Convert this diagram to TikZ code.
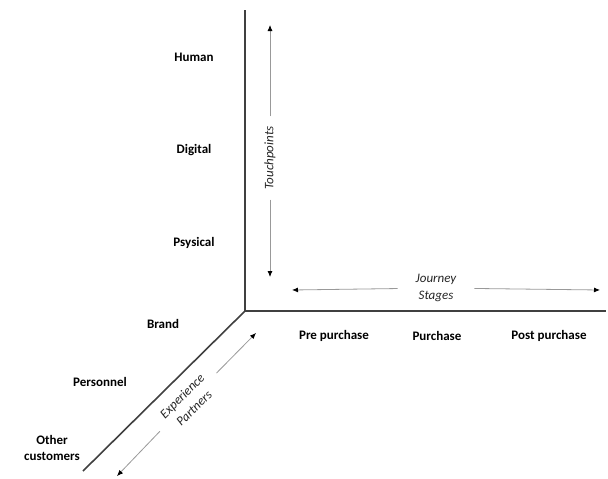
\documentclass[tikz,border=0pt]{standalone}
\usepackage{fontspec}
\setmainfont{Carlito}
\usetikzlibrary{arrows.meta}
\tikzstyle{axis}=[line width=1.6pt,black!75]
\tikzstyle{arr}=[line width=0.8pt,black!40,-{Latex[black,length=6pt,width=5pt]}]
\tikzstyle{lbl}=[font=\fontsize{13}{16}\selectfont\bfseries,align=center]
\tikzstyle{dim}=[font=\fontsize{13}{17}\selectfont\itshape,align=center,text=black!85]

\begin{document}
\begin{tikzpicture}[x=1pt,y=-1pt]
    \useasboundingbox (0,0) rectangle (608,479);
    % axes
    \coordinate (o) at (245,311);
    \coordinate (top) at (245,10);
    \coordinate (right) at (606,311);
    \coordinate (low) at (83,471);
    \draw[axis] (top) -- (o) -- (right);
    \draw[axis] (o) -- (low);

    % touchpoints
    \node[lbl] (human) at (194,57) {Human};
    \node[lbl] (digital) at (194,150) {Digital};
    \node[lbl] (phys) at (194,243) {Psysical};

    % partners
    \node[lbl] (brand) at (163,324) {Brand};
    \node[lbl] (pers) at (100,382) {Personnel};
    \node[lbl] (other) at (52,448) {Other\\customers};

    % stages
    \node[lbl] (pre) at (334,336) {Pre purchase};
    \node[lbl] (purch) at (437,336) {Purchase};
    \node[lbl] (post) at (549,336) {Post purchase};

    % dimension arrows
    \node[dim,rotate=90,inner xsep=10pt] (tp) at (270,158) {Touchpoints};
    \coordinate (tptop) at (270,25);
    \coordinate (tpbot) at (270,277);
    \draw[arr] (tp) -- (tptop);
    \draw[arr] (tp) -- (tpbot);

    \node[dim,inner xsep=18pt] (js) at (436,288) {Journey\\Stages};
    \coordinate (jsl) at (292,290);
    \coordinate (jsr) at (600,290);
    \draw[arr] (js) -- (jsl);
    \draw[arr] (js) -- (jsr);

    \node[dim,rotate=45,inner xsep=12pt] (ep) at (188,402) {Experience\\Partners};
    \coordinate (epu) at (256,333);
    \coordinate (epd) at (117,476);
    \draw[arr] (ep) -- (epu);
    \draw[arr] (ep) -- (epd);
\end{tikzpicture}
\end{document}
